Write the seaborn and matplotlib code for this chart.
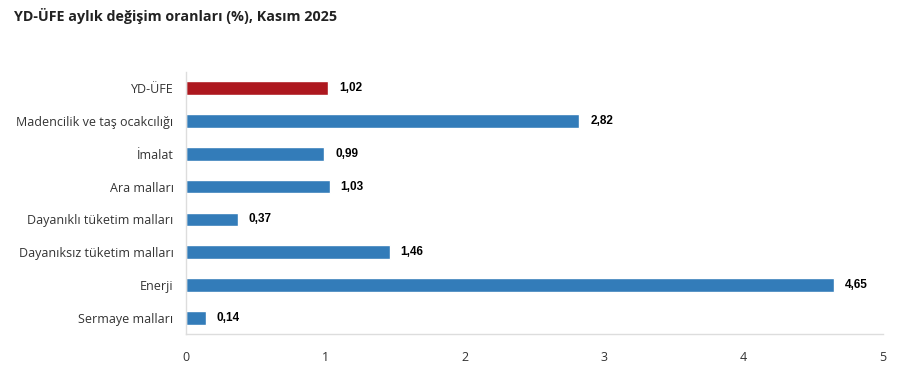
import matplotlib
matplotlib.use("Agg")
import matplotlib.pyplot as plt
import seaborn as sns
import pandas as pd

categories = ["YD-ÜFE", "Madencilik ve taş ocakcılığı", "İmalat", "Ara malları",
              "Dayanıklı tüketim malları", "Dayanıksız tüketim malları", "Enerji",
              "Sermaye malları"]
values = [1.02, 2.82, 0.99, 1.03, 0.37, 1.46, 4.65, 0.14]
value_labels = ["1,02", "2,82", "0,99", "1,03", "0,37", "1,46", "4,65", "0,14"]
xticks = [0, 1, 2, 3, 4, 5]
title = "YD-ÜFE aylık değişim oranları (%), Kasım 2025"

sns.set_theme(style="white")
plt.rcParams["font.family"] = ["Open Sans", "DejaVu Sans"]

df = pd.DataFrame({"cat": categories, "val": values})
colors = ["#AD181F"] + ["#337CB9"] * (len(categories) - 1)

fig = plt.figure(figsize=(9.07, 3.88), dpi=100)
ax = fig.add_axes([186 / 907, 1 - 334.4 / 388, (883 - 186) / 907, (334.4 - 71.6) / 388])
sns.barplot(data=df, y="cat", x="val", hue="cat", palette=colors, legend=False,
            width=0.42, ax=ax, orient="h", saturation=1)

ax.set_xlim(0, 5)
ax.set_xticks(xticks)
ax.set_xticklabels([str(t) for t in xticks], fontsize=9, color="#333333")
ax.set_xlabel("")
ax.set_ylabel("")
ax.tick_params(axis="y", labelsize=9, colors="#333333", length=0, pad=9)
ax.tick_params(axis="x", length=0, pad=12)
for s in ["top", "right"]:
    ax.spines[s].set_visible(False)
for s in ["left", "bottom"]:
    ax.spines[s].set_color("#DDDDDD")
    ax.spines[s].set_linewidth(1)

for i, (v, lab) in enumerate(zip(values, value_labels)):
    ax.annotate(lab, (v, i), xytext=(8, 0), textcoords="offset points",
                va="center", ha="left", fontsize=8.5, fontweight="bold",
                family=["Liberation Sans", "DejaVu Sans"], color="#000000")

fig.text(14 / 907, 1 - 16 / 388, title, fontsize=10.3, fontweight="bold",
         color="#222222", va="center", ha="left")

fig.savefig("out.png", dpi=100)
